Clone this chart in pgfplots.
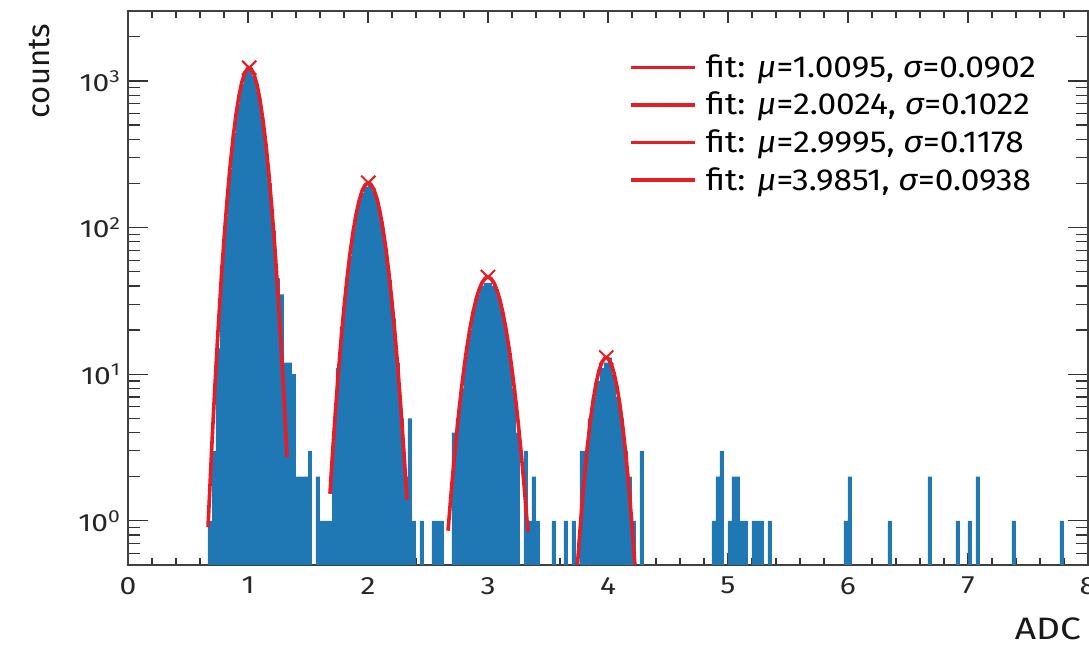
\documentclass[border=0pt]{standalone}
\usepackage{fontspec}
\setmainfont{Fira Sans}[FakeStretch=1.2]
\newfontfamily\plainfont{Fira Sans}
\newfontfamily\legfont{Fira Sans}[FakeStretch=1.1]
\usepackage{pgfplots}
\pgfplotsset{compat=1.18}
\definecolor{histblue}{RGB}{31,119,180}
\definecolor{fitred}{RGB}{232,28,36}
\begin{document}
\begin{tikzpicture}
\begin{axis}[
  scale only axis, width=480pt, height=277pt,
  xmin=0, xmax=8, ymode=log, log basis y=10, ymin=0.5, ymax=3000,
  log origin=infty,
  /pgf/number format/assume math mode=true,
  xtick={0,1,2,3,4,5,6,7,8}, minor x tick num=4,
  ytick={1,10,100,1000},
  yticklabels={10\textsuperscript{0},10\textsuperscript{1},10\textsuperscript{2},10\textsuperscript{3}},
  minor ytick={0.5,0.6,0.7,0.8,0.9,2,3,4,5,6,7,8,9,20,30,40,50,60,70,80,90,200,300,400,500,600,700,800,900,2000,3000},
  tick align=inside, xtick pos=both, ytick pos=both,
  xticklabel pos=lower, yticklabel pos=left,
  major tick length=6pt, minor tick length=3.5pt,
  ytick style={/pgfplots/major tick length=10pt, /pgfplots/minor tick length=6pt},
  tick style={black!80, line width=0.6pt},
  axis line style={black!75, line width=0.8pt},
  ticklabel style={font=\fontsize{12.5}{14}\selectfont, text=black!85},
  xticklabel style={yshift=-2.5pt},
  xlabel={ADC}, ylabel={\plainfont counts},
  label style={font=\fontsize{15.5}{18}\selectfont, text=black!90},
  xlabel style={at={(axis description cs:1,0)}, anchor=north east, yshift=-23pt, xshift=0pt},
  ylabel style={at={(axis description cs:0,1)}, anchor=south east, yshift=35.5pt, xshift=-3pt},
  legend style={draw=none, fill=none, at={(rel axis cs:0.515,0.935)}, anchor=north west,
    font=\legfont\fontsize{15.2}{17}\selectfont, row sep=2.9pt, nodes={inner sep=1.5pt},
    /tikz/every odd column/.append style={column sep=3.25pt}},
  legend cell align=left,
  legend image code/.code={\draw[#1, line width=1.8pt] (0pt,0pt) -- (32pt,0pt);},
]
\addplot[ybar, bar width=0.0333, bar shift=0pt, fill=histblue, draw=none, forget plot] coordinates {
(0.6833,1) (0.7167,3) (0.7500,15) (0.7833,55) (0.8167,120) (0.8500,250) (0.8833,440) (0.9167,700)
(0.9500,960) (0.9833,1150) (1.0167,1200) (1.0500,1080) (1.0833,860) (1.1167,600) (1.1500,370)
(1.1833,200) (1.2167,95) (1.2500,45) (1.2833,35) (1.3167,12) (1.3500,12) (1.3833,10)
(1.4167,2) (1.4500,2) (1.4833,2) (1.5167,3) (1.5833,2) (1.6167,1) (1.6500,1)
(1.6833,1) (1.7167,4) (1.7500,11) (1.7833,21) (1.8167,39) (1.8500,64) (1.8833,100) (1.9167,140)
(1.9500,172) (1.9833,190) (2.0167,195) (2.0500,178) (2.0833,150) (2.1167,110) (2.1500,72)
(2.1833,44) (2.2167,24) (2.2500,12) (2.2833,5) (2.3167,2) (2.3500,5) (2.3833,1)
(2.4500,1) (2.5500,1) (2.5833,1) (2.6167,1)
(2.7167,4) (2.7500,5) (2.7833,8) (2.8167,14) (2.8500,20) (2.8833,28) (2.9167,35) (2.9500,40)
(2.9833,42) (3.0167,42) (3.0500,40) (3.0833,35) (3.1167,28) (3.1500,20) (3.1833,14) (3.2167,8)
(3.2500,4) (3.3167,3) (3.3500,1) (3.3833,2) (3.4167,1)
(3.5500,1) (3.6500,1) (3.7167,1)
(3.7833,3) (3.8167,3) (3.8500,5) (3.8833,7) (3.9167,9) (3.9500,11) (3.9833,12) (4.0167,13)
(4.0500,10) (4.0833,7) (4.1167,5) (4.1500,3) (4.1833,2) (4.2167,1) (4.2833,3)
(4.8833,1) (4.9167,2) (4.9500,3) (5.0167,1) (5.0500,2) (5.0833,2) (5.1167,1) (5.1500,1)
(5.2167,1) (5.2500,1) (5.2833,1) (5.3500,1)
(5.9833,1) (6.0167,2) (6.3500,1) (6.6833,2) (6.9167,1) (7.0167,1) (7.0833,2) (7.3833,1) (7.7833,1)
};
\addplot[fitred, line width=1.8pt, no markers] coordinates {
(0.667,0.91) (0.70,3.42) (0.725,8.52) (0.75,19.6) (0.775,41.9) (0.80,82.9) (0.825,151.8)
(0.85,257.6) (0.875,404.7) (0.90,588.7) (0.925,793.1) (0.95,989.5) (0.975,1143.3) (1.0,1223.2)
(1.0095,1230) (1.025,1211.9) (1.05,1112.0) (1.075,944.9) (1.10,743.5) (1.125,541.8) (1.15,365.7)
(1.175,228.4) (1.20,132.2) (1.225,70.9) (1.25,35.2) (1.275,16.2) (1.30,6.88) (1.325,2.71)
};
\addlegendentry{fit: \textit{μ}=1.0095, \textit{σ}=0.0902}
\addplot[fitred, line width=1.8pt, no markers] coordinates {
(1.683,1.53) (1.70,2.54) (1.725,5.08) (1.75,9.57) (1.775,16.99) (1.80,28.4) (1.825,44.8)
(1.85,66.4) (1.875,92.9) (1.90,122.3) (1.925,151.6) (1.95,177.1) (1.975,194.9) (2.0024,202)
(2.025,197.1) (2.05,181.2) (2.075,157.0) (2.10,128.0) (2.125,98.4) (2.15,71.2) (2.175,48.5)
(2.20,31.2) (2.225,18.85) (2.25,10.73) (2.275,5.76) (2.30,2.91) (2.325,1.39)
};
\addlegendentry{fit: \textit{μ}=2.0024, \textit{σ}=0.1022}
\addplot[fitred, line width=1.8pt, no markers] coordinates {
(2.667,0.857) (2.70,1.82) (2.725,3.05) (2.75,4.88) (2.775,7.48) (2.80,10.97) (2.825,15.36)
(2.85,20.56) (2.875,26.3) (2.90,32.2) (2.925,37.66) (2.95,42.1) (2.975,45.0) (2.9995,46)
(3.025,44.9) (3.05,41.96) (3.075,37.46) (3.10,31.97) (3.125,26.08) (3.15,20.34) (3.175,15.16)
(3.20,10.81) (3.225,7.36) (3.25,4.80) (3.275,2.99) (3.30,1.78) (3.333,0.84)
};
\addlegendentry{fit: \textit{μ}=2.9995, \textit{σ}=0.1178}
\addplot[fitred, line width=1.8pt, no markers] coordinates {
(3.74,0.43) (3.76,0.73) (3.78,1.19) (3.80,1.85) (3.825,3.03) (3.85,4.61) (3.875,6.53)
(3.90,8.62) (3.925,10.59) (3.95,12.12) (3.975,12.92) (3.9851,13) (4.0,12.84) (4.025,11.88)
(4.05,10.23) (4.075,8.21) (4.10,6.14) (4.125,4.27) (4.15,2.77) (4.175,1.67) (4.20,0.94) (4.23,0.43)
};
\addlegendentry{fit: \textit{μ}=3.9851, \textit{σ}=0.0938}
\addplot[only marks, mark=x, mark size=5pt, fitred, line width=1pt, forget plot] coordinates {
(1.0095,1230) (2.0024,202) (2.9995,46) (3.9851,13)
};
\end{axis}
\pgfresetboundingbox
\useasboundingbox (-64pt,-41.5pt) rectangle (480.5pt,282.5pt);
\end{tikzpicture}
\end{document}
